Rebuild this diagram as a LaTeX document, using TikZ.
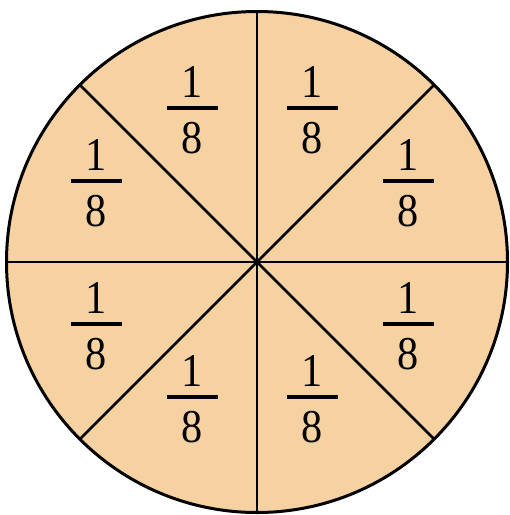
\documentclass[tikz,border=0pt]{standalone}
\usepackage{fontspec}
\setmainfont{Liberation Serif}
\definecolor{pie}{RGB}{246,210,162}
\begin{document}
\begin{tikzpicture}[x=1pt,y=-1pt,
  num/.style={inner sep=0pt,xscale=0.9,font=\fontsize{47}{47}\selectfont},
  bar/.style={line width=4pt},
  spoke/.style={line width=2.8pt}]
\useasboundingbox (0,0) rectangle (510,515);
\node[circle,draw,line width=3pt,fill=pie,minimum size=501pt,inner sep=0pt,outer sep=0pt] (c) at (257,262) {};
\foreach \a in {0,45,...,315} \draw[spoke] (c.center) -- (c.\a);
\foreach \n/\x/\y in {tl/192/108,tr/312/108,ul/96/181,ur/408/181,ll/96/324,lr/408/324,bl/192/397,br/312/397}{
  \node[num] (\n1) at (\x,\y-26.5) {1};
  \node[num] (\n8) at (\x,\y+30) {8};
  \coordinate (\n a) at (\x-25.5,\y);
  \coordinate (\n b) at (\x+25.5,\y);
  \draw[bar] (\n a) -- (\n b);
}
\end{tikzpicture}
\end{document}
